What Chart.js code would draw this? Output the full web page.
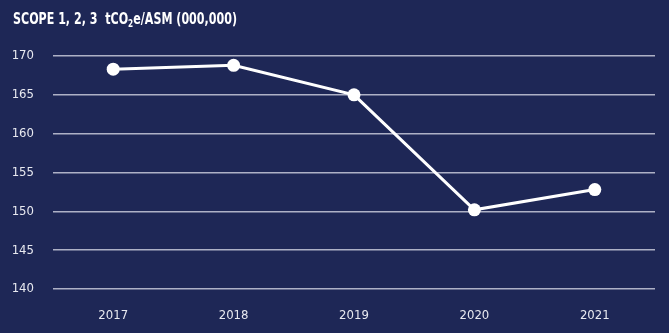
<!DOCTYPE html>
<html>
<head>
<meta charset="utf-8">
<script src="https://cdn.jsdelivr.net/npm/chart.js@4/dist/chart.umd.min.js"></script>
<style>
html,body{margin:0;padding:0;background:#1e2756;}
#wrap{width:669px;height:333px;position:relative;}
</style>
</head>
<body>
<div id="wrap"><canvas id="c"></canvas></div>
<script>
const categories = ['2017', '2018', '2019', '2020', '2021'];
const emissionsPerASM = [168.3, 168.8, 165.0, 150.2, 152.8];
const yTicks = [140, 145, 150, 155, 160, 165, 170];
const titleParts = ['SCOPE 1, 2, 3  tCO', '2', 'e/ASM (000,000)'];

const FONT = '"DejaVu Sans Condensed", "Liberation Sans Narrow", "Roboto", sans-serif';

const bgPlugin = {
  id: 'bg',
  beforeDraw(chart) {
    const ctx = chart.ctx;
    ctx.save();
    ctx.fillStyle = '#1e2756';
    ctx.fillRect(0, 0, chart.width, chart.height);
    ctx.restore();
  }
};

// Title with a real subscript "2", slightly condensed to match the reference
const titlePlugin = {
  id: 'richTitle',
  afterDraw(chart) {
    const ctx = chart.ctx;
    ctx.save();
    const big = 'bold 15px ' + FONT;
    const small = 'bold 10px ' + FONT;
    ctx.font = big;
    const w0 = ctx.measureText(titleParts[0]).width;
    const w2 = ctx.measureText(titleParts[2]).width;
    ctx.font = small;
    const w1 = ctx.measureText(titleParts[1]).width;
    const total = w0 + w1 + w2;
    const target = 224;
    const sx = target / total;
    ctx.translate(13, 0);
    ctx.scale(sx, 1);
    ctx.fillStyle = '#ffffff';
    ctx.textBaseline = 'alphabetic';
    ctx.textAlign = 'left';
    const base = 24;
    ctx.font = big;
    ctx.fillText(titleParts[0], 0, base);
    ctx.font = small;
    ctx.fillText(titleParts[1], w0, base + 3);
    ctx.font = big;
    ctx.fillText(titleParts[2], w0 + w1, base);
    ctx.restore();
  }
};

new Chart(document.getElementById('c'), {
  type: 'line',
  data: {
    labels: categories,
    datasets: [{
      data: emissionsPerASM,
      borderColor: '#ffffff',
      backgroundColor: '#ffffff',
      borderWidth: 3,
      pointRadius: 6.5,
      pointHoverRadius: 6.5,
      pointBackgroundColor: '#ffffff',
      pointBorderWidth: 0,
      tension: 0,
      fill: false
    }]
  },
  options: {
    responsive: true,
    maintainAspectRatio: false,
    animation: false,
    layout: { padding: { left: 13, right: 14, top: 56, bottom: 0 } },
    plugins: {
      legend: { display: false },
      tooltip: { enabled: false },
      title: { display: false }
    },
    scales: {
      x: {
        offset: true,
        grid: { display: false, drawTicks: false },
        border: { display: false },
        ticks: {
          color: '#e8e9f0',
          font: { family: FONT, size: 13 },
          padding: 19,
          maxRotation: 0
        },
        afterFit(scale) { scale.height = 44; }
      },
      y: {
        min: 140,
        max: 170,
        afterBuildTicks(scale) { scale.ticks = yTicks.map(v => ({ value: v })); },
        grid: { color: '#aeb1c6', lineWidth: 1.5, drawTicks: false },
        border: { display: false },
        ticks: {
          color: '#e8e9f0',
          font: { family: FONT, size: 13 },
          padding: 19
        },
        afterFit(scale) { scale.width = 40; }
      }
    }
  },
  plugins: [bgPlugin, titlePlugin]
});
</script>
</body>
</html>
